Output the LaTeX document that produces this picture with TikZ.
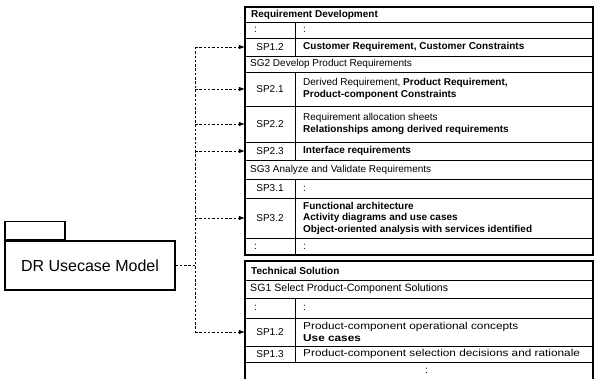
\documentclass[tikz,border=0pt]{standalone}
\usepackage{fontspec}
\setmainfont{Liberation Sans}
\newfontfamily\widefont[FakeStretch=1.18]{Liberation Sans}
\usetikzlibrary{arrows.meta}

\tikzset{
  rule/.style={line width=0.7pt},
  frame/.style={line width=1.1pt},
  txt/.style={anchor=west, inner sep=0pt, align=left, font=\fontsize{10}{11.5}\selectfont},
  widetxt/.style={anchor=west, inner sep=0pt, align=left, font=\widefont\fontsize{10}{11.5}\selectfont},
  splabel/.style={minimum width=50pt, minimum height=14pt, inner sep=0pt, font=\fontsize{10}{11.5}\selectfont},
  link/.style={line width=0.6pt, dash pattern=on 2.5pt off 1.8pt},
  tip/.style={link, -{Latex[length=6pt,width=4.5pt]}},
}

\begin{document}
\begin{tikzpicture}[x=1pt,y=-1pt]
\useasboundingbox[fill=white] (0,0) rectangle (594,379);

% Package
\node[draw, frame, minimum width=170pt, minimum height=49pt, inner sep=0pt,
      font=\fontsize{16}{18}\selectfont] (model) at (90,265.5) {DR Usecase Model};
\node[draw, frame, minimum width=60pt, minimum height=18pt, inner sep=0pt,
      anchor=south west] (tab) at (model.north west) {};

% Requirement Development table
\draw[frame] (245,7) rectangle (593,255);
\foreach \y in {22,38,56,72,106,142,160,179,198,238}
  \draw[rule] (245,\y) -- (593,\y);
\draw[rule] (295,22) -- (295,56);
\draw[rule] (295,72) -- (295,160);
\draw[rule] (295,179) -- (295,255);

\node[txt] (rd) at (251,14.5) {\textbf{Requirement Development}};
\node[txt] at (254,30) {:};
\node[txt] at (303,30) {:};
\node[splabel] (a12) at (270,47) {SP1.2};
\node[txt] at (303,47) {\textbf{Customer Requirement, Customer Constraints}};
\node[txt] (sg2) at (250,64) {SG2 Develop Product Requirements};
\node[splabel] (a21) at (270,89) {SP2.1};
\node[txt] at (303,89) {Derived Requirement, \textbf{Product Requirement,}\\\textbf{Product-component Constraints}};
\node[splabel] (a22) at (270,124) {SP2.2};
\node[txt] at (303,124) {Requirement allocation sheets\\\textbf{Relationships among derived requirements}};
\node[splabel] (a23) at (270,151) {SP2.3};
\node[txt] at (303,151) {\textbf{Interface requirements}};
\node[txt] (sg3) at (250,169.5) {SG3 Analyze and Validate Requirements};
\node[splabel] (a31) at (270,188.5) {SP3.1};
\node[txt] at (303,188.5) {:};
\node[splabel] (a32) at (270,218) {SP3.2};
\node[txt] at (303,218) {\textbf{Functional architecture}\\\textbf{Activity diagrams and use cases}\\\textbf{Object-oriented analysis with services identified}};
\node[txt] at (254,246.5) {:};
\node[txt] at (303,246.5) {:};

% Technical Solution table
\draw[frame] (245,379) -- (245,261) -- (593,261) -- (593,379);
\foreach \y in {280,298,318,346,362}
  \draw[rule] (245,\y) -- (593,\y);
\draw[rule] (295,298) -- (295,362);

\node[txt] (ts) at (251,270.5) {\textbf{Technical Solution}};
\node[txt, font=\fontsize{10.6}{12}\selectfont] (sg1) at (250,289) {SG1 Select Product-Component Solutions};
\node[txt] at (254,308) {:};
\node[txt] at (303,308) {:};
\node[splabel] (b12) at (270,332) {SP1.2};
\node[widetxt] at (303,332) {Product-component operational concepts\\\textbf{Use cases}};
\node[splabel] (b13) at (270,354) {SP1.3};
\node[widetxt] at (303,354) {Product-component selection decisions and rationale};
\node[txt] at (425,370.5) {:};

% Trace links
\coordinate (bus) at (195,0);
\draw[link] (model.east) -- (bus |- model.east);
\draw[link] (bus |- a12.west) -- (bus |- b12.west);
\foreach \n in {a12,a21,a22,a23,a32,b12}
  \draw[tip] (bus |- \n.west) -- (\n.west);
\end{tikzpicture}
\end{document}
